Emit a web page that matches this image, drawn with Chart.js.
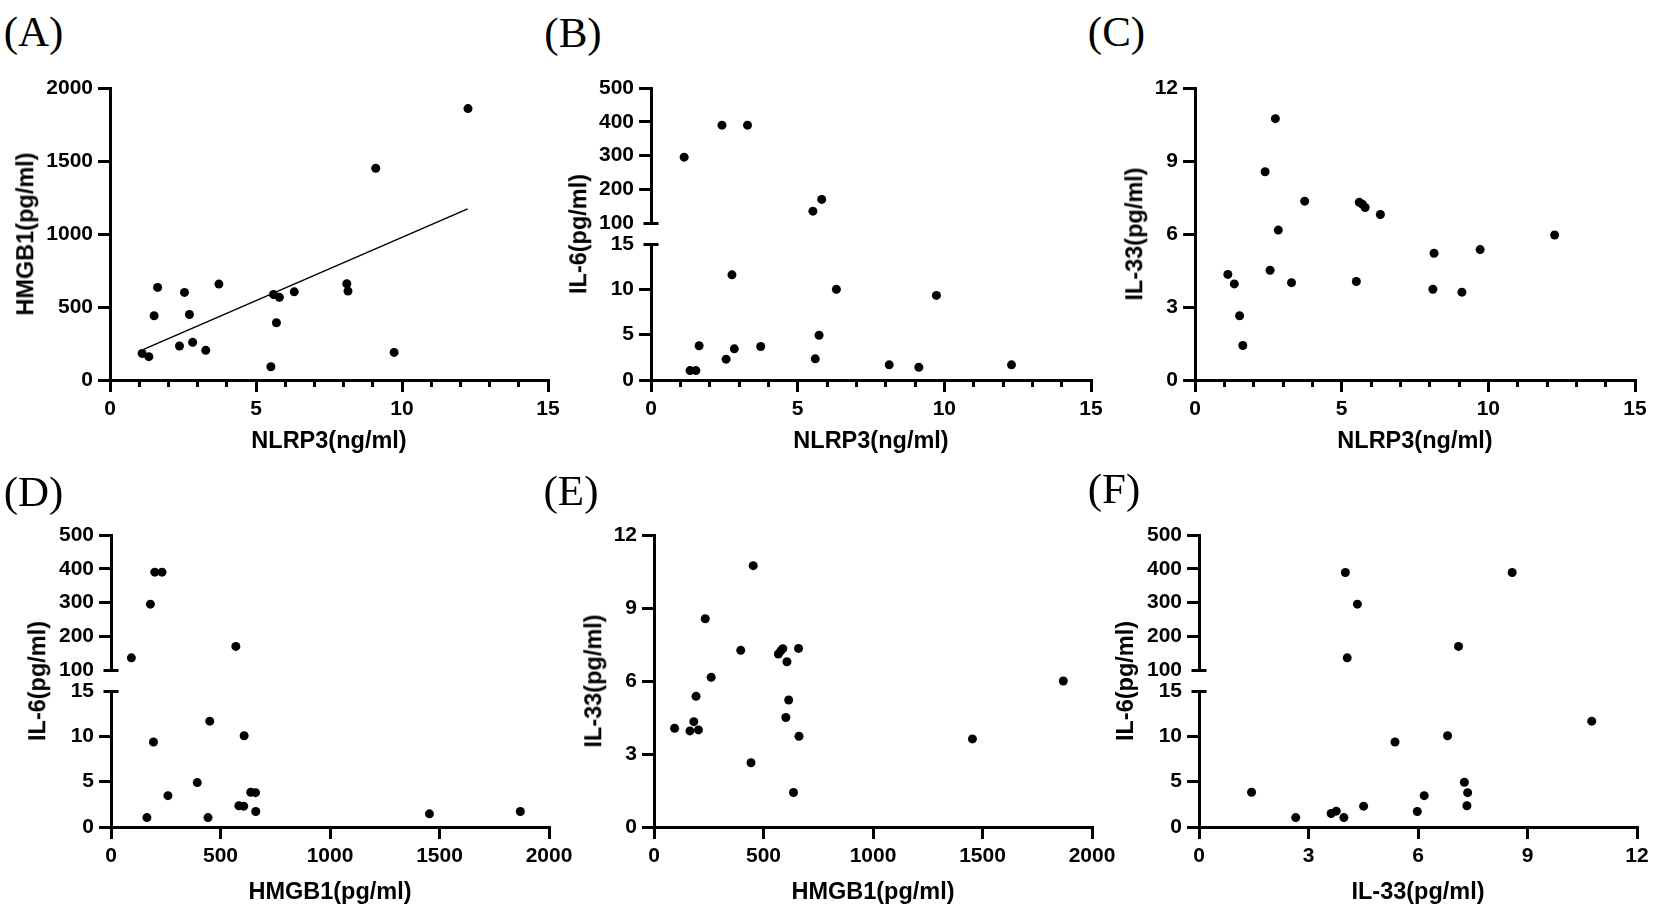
<!DOCTYPE html>
<html>
<head>
<meta charset="utf-8">
<script src="https://cdn.jsdelivr.net/npm/chart.js@4.4.1/dist/chart.umd.min.js"></script>
<style>
  html,body{margin:0;padding:0;background:#fff}
  body{position:relative;width:1654px;height:909px;overflow:hidden;font-family:"Liberation Sans",Arial,sans-serif}
  canvas{position:absolute}
  .letter{position:absolute;font-family:"Liberation Serif","Times New Roman",serif;font-size:43px;line-height:1;color:#000;transform:translate(-50%,-50%);white-space:nowrap}
  .ytitle{position:absolute;font-weight:bold;font-size:23.5px;line-height:1;color:#000;white-space:nowrap;transform:translate(-50%,-50%) rotate(-90deg)}
</style>
</head>
<body>
<script>
// ---- data ----
// (A) NLRP3 vs HMGB1
const nlrp3A = [1.10,1.33,1.51,1.63,2.38,2.55,2.72,2.83,3.28,3.73,5.51,5.60,5.70,5.80,6.31,8.11,8.15,9.10,9.73,12.26];
const hmgb1A = [182,160,440,634,233,600,449,258,203,657,91,586,392,566,604,659,609,1450,189,1859];
const fitLineX = [1.15, 12.25];
const fitLineY = [210, 1172];
// (B) NLRP3 vs IL-6
const nlrp3B = [1.13,2.42,3.29,5.52,5.82,1.33,1.53,1.64,2.56,2.76,2.84,3.74,5.60,5.73,6.32,8.12,9.13,9.73,12.29];
const il6B   = [295,390,390,135,170,1.04,1.04,3.78,2.30,11.6,3.44,3.70,2.33,4.93,10.0,1.67,1.41,9.33,1.67];
// (C) NLRP3 vs IL-33
const nlrp3C = [1.12,1.34,1.52,1.63,2.39,2.56,2.74,2.84,3.29,3.74,5.50,5.60,5.71,5.80,6.32,8.11,8.15,9.10,9.72,12.26];
const il33C  = [4.34,3.95,2.64,1.42,8.56,4.51,10.74,6.16,4.00,7.35,4.05,7.30,7.22,7.09,6.80,3.73,5.21,3.61,5.36,5.96];
// (D) HMGB1 vs IL-6
const hmgb1D = [93,180,200,233,570,164,194,260,394,443,451,584,606,608,638,660,661,1454,1869];
const il6D   = [136,295,390,390,170,1.04,9.37,3.46,4.90,1.04,11.67,2.34,2.30,10.07,3.83,3.79,1.71,1.45,1.71];
// (E) HMGB1 vs IL-33
const hmgb1E = [94,164,182,203,192,234,261,396,443,453,568,579,588,607,602,615,637,660,662,1454,1869];
const il33E  = [4.06,3.95,4.33,3.99,5.37,8.56,6.15,7.26,2.64,10.74,7.11,7.24,7.33,6.79,4.50,5.22,1.42,7.34,3.73,3.62,6.00];
// (F) IL-33 vs IL-6
const il33F  = [4.01,4.34,4.06,7.11,8.58,1.44,2.65,3.62,3.76,3.97,4.51,5.37,5.98,6.17,6.81,7.27,7.36,7.34,10.76];
const il6F   = [389,295,136,170,389,3.83,1.04,1.49,1.75,1.04,2.30,9.37,1.71,3.46,10.07,4.94,3.79,2.34,11.67];

// axis ranges / ticks
const nlrp3Axis = {min:0, max:15, step:5, minor:1};
const hmgb1Axis = {min:0, max:2000, step:500};
const il33Axis  = {min:0, max:12, step:3};
const il6Lower  = {min:0, max:15, step:5};
const il6Upper  = {min:100, max:500, step:100};

// ---- layout ----
const FONT = '"Liberation Sans", Arial, sans-serif';
const tickFont = {family: FONT, size: 21, weight: 'bold'};
const titleFont = {family: FONT, size: 23.5, weight: 'bold'};
const YW = 90, PT = 25, PR = 35;
const ROW1 = {yt:88, yb:380, brkHi:223, brkLo:244, xh:76, titleY:234};
const ROW2 = {yt:535, yb:827, brkHi:670, brkLo:691, xh:80, titleY:681};

const decor = {
  id: 'decor',
  afterDraw(chart, args, o) {
    const ctx = chart.ctx, area = chart.chartArea;
    ctx.save();
    ctx.strokeStyle = '#000';
    ctx.lineWidth = 3;
    if (o.minor) {
      const s = chart.scales.x;
      for (let v = s.min; v <= s.max + 1e-9; v += o.minor.step) {
        if (Math.abs(v / o.minor.major - Math.round(v / o.minor.major)) < 1e-6) continue;
        const px = Math.round(s.getPixelForValue(v) - 1.5) + 1.5;
        ctx.beginPath(); ctx.moveTo(px, area.bottom); ctx.lineTo(px, area.bottom + 7); ctx.stroke();
      }
    }
    if (o.brk !== undefined) {
      const s = chart.scales.y;
      const py = Math.round(s.getPixelForValue(o.brk) - 1.5) + 1.5;
      ctx.beginPath(); ctx.moveTo(area.left - 7.5, py); ctx.lineTo(area.left + 7.5, py); ctx.stroke();
    }
    ctx.restore();
  }
};
Chart.register(decor);

function mkCanvas(left, top, w, h) {
  const c = document.createElement('canvas');
  c.width = w; c.height = h;
  c.style.left = left + 'px'; c.style.top = top + 'px';
  c.style.width = w + 'px'; c.style.height = h + 'px';
  document.body.appendChild(c);
  return c;
}

function fixY(s) { s.width = YW; s.paddingTop = s.paddingBottom = s.paddingLeft = s.paddingRight = 0; }

function yScale(ax, brk) {
  return {
    type: 'linear', position: 'left', min: ax.min, max: ax.max, afterFit: fixY,
    ticks: {stepSize: ax.step, font: tickFont, color: '#000', padding: 5, callback: v => String(v)},
    grid: {drawOnChartArea: false, tickLength: 12, lineWidth: 3, color: '#000',
           tickColor: c => (brk !== undefined && c.tick && c.tick.value === brk) ? 'rgba(0,0,0,0)' : '#000'},
    border: {display: true, width: 3, color: '#000'}
  };
}

function xScale(ax, title, xh, show) {
  return {
    type: 'linear', position: 'bottom', min: ax.min, max: ax.max, display: show,
    afterFit: s => { s.height = xh; s.paddingLeft = s.paddingRight = s.paddingTop = s.paddingBottom = 0; },
    ticks: {stepSize: ax.step, font: tickFont, color: '#000', padding: 5, maxRotation: 0, autoSkip: false, callback: v => String(v)},
    grid: {drawOnChartArea: false, tickLength: 12, lineWidth: 3, color: '#000'},
    border: {display: true, width: 3, color: '#000'},
    title: {display: true, text: title, font: titleFont, color: '#000', padding: 0}
  };
}

function dots(xs, ys) {
  return {
    data: xs.map((x, i) => ({x, y: ys[i]})),
    pointRadius: 4.5, pointHoverRadius: 4.5, pointBorderWidth: 0,
    pointBackgroundColor: '#000', showLine: false, clip: false
  };
}

function chart(canvas, pad, scales, datasets, decorOpts) {
  return new Chart(canvas, {
    type: 'scatter',
    data: {datasets},
    options: {
      responsive: false, animation: false, events: [],
      layout: {padding: pad},
      scales,
      plugins: {legend: {display: false}, tooltip: {enabled: false}, decor: decorOpts}
    }
  });
}

function panel(p) {
  const r = p.row, w = YW + (p.x1 - p.x0) + PR, left = p.x0 - YW;
  if (p.upper) {
    const lowMax = p.yAxis.max;
    const lx = [], ly = [], ux = [], uy = [];
    p.ys.forEach((y, i) => { if (y > lowMax) { ux.push(p.xs[i]); uy.push(y); } else { lx.push(p.xs[i]); ly.push(y); } });
    // upper segment
    const cu = mkCanvas(left, r.yt - PT, w, PT + (r.brkHi - r.yt) + 12);
    chart(cu, {left: 0, top: PT, right: PR, bottom: 12},
      {x: xScale(p.xAxis, p.xTitle, 0, false), y: yScale(p.upper, p.upper.min)},
      [dots(ux, uy)], {brk: p.upper.min});
    // lower segment with x axis
    const cl = mkCanvas(left, r.brkLo - PT, w, PT + (r.yb - r.brkLo) + r.xh);
    chart(cl, {left: 0, top: PT, right: PR, bottom: 0},
      {x: xScale(p.xAxis, p.xTitle, r.xh, true), y: yScale(p.yAxis, p.yAxis.max)},
      [dots(lx, ly)], {brk: p.yAxis.max, minor: p.xAxis.minor ? {step: p.xAxis.minor, major: p.xAxis.step} : null});
  } else {
    const c = mkCanvas(left, r.yt - PT, w, PT + (r.yb - r.yt) + r.xh);
    const ds = [dots(p.xs, p.ys)];
    if (p.fit) ds.push({data: p.fit[0].map((x, i) => ({x, y: p.fit[1][i]})), showLine: true,
      borderColor: '#000', borderWidth: 1.5, pointRadius: 0, fill: false});
    chart(c, {left: 0, top: PT, right: PR, bottom: 0},
      {x: xScale(p.xAxis, p.xTitle, r.xh, true), y: yScale(p.yAxis)},
      ds, {minor: p.xAxis.minor ? {step: p.xAxis.minor, major: p.xAxis.step} : null});
  }
  const t = document.createElement('div');
  t.className = 'ytitle'; t.textContent = p.yTitle;
  t.style.left = p.titleX + 'px'; t.style.top = r.titleY + 'px';
  document.body.appendChild(t);
  const l = document.createElement('div');
  l.className = 'letter'; l.textContent = p.letter;
  l.style.left = p.letterX + 'px'; l.style.top = p.letterY + 'px';
  document.body.appendChild(l);
}

panel({row: ROW1, x0: 110, x1: 548, xs: nlrp3A, ys: hmgb1A, fit: [fitLineX, fitLineY],
  xAxis: nlrp3Axis, yAxis: hmgb1Axis, xTitle: 'NLRP3(ng/ml)', yTitle: 'HMGB1(pg/ml)',
  titleX: 26, letter: '(A)', letterX: 33.5, letterY: 31});
panel({row: ROW1, x0: 651, x1: 1091, xs: nlrp3B, ys: il6B,
  xAxis: nlrp3Axis, yAxis: il6Lower, upper: il6Upper, xTitle: 'NLRP3(ng/ml)', yTitle: 'IL-6(pg/ml)',
  titleX: 579, letter: '(B)', letterX: 573, letterY: 31.5});
panel({row: ROW1, x0: 1195, x1: 1635, xs: nlrp3C, ys: il33C,
  xAxis: nlrp3Axis, yAxis: il33Axis, xTitle: 'NLRP3(ng/ml)', yTitle: 'IL-33(pg/ml)',
  titleX: 1135, letter: '(C)', letterX: 1116.5, letterY: 31});
panel({row: ROW2, x0: 111, x1: 549, xs: hmgb1D, ys: il6D,
  xAxis: hmgb1Axis, yAxis: il6Lower, upper: il6Upper, xTitle: 'HMGB1(pg/ml)', yTitle: 'IL-6(pg/ml)',
  titleX: 38, letter: '(D)', letterX: 33.5, letterY: 491});
panel({row: ROW2, x0: 654, x1: 1092, xs: hmgb1E, ys: il33E,
  xAxis: hmgb1Axis, yAxis: il33Axis, xTitle: 'HMGB1(pg/ml)', yTitle: 'IL-33(pg/ml)',
  titleX: 594, letter: '(E)', letterX: 571, letterY: 490});
panel({row: ROW2, x0: 1199, x1: 1637, xs: il33F, ys: il6F,
  xAxis: il33Axis, yAxis: il6Lower, upper: il6Upper, xTitle: 'IL-33(pg/ml)', yTitle: 'IL-6(pg/ml)',
  titleX: 1126, letter: '(F)', letterX: 1114, letterY: 488});
</script>
</body>
</html>
